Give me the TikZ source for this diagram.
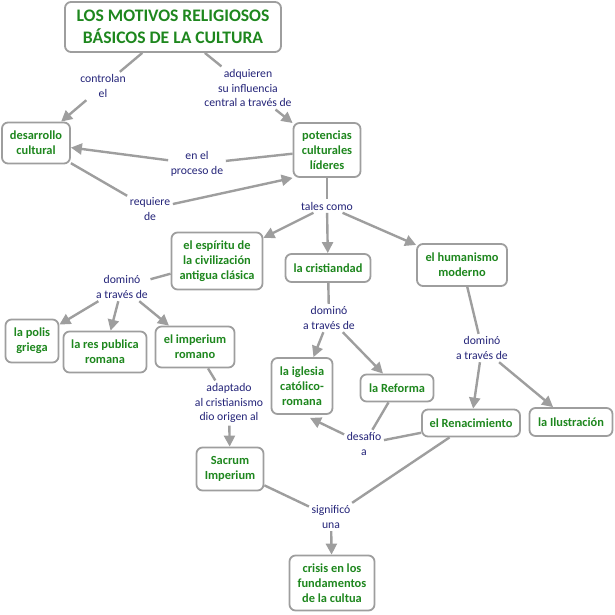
\documentclass[tikz,border=0pt]{standalone}
\usepackage{fontspec}
\setmainfont{Carlito}
\usetikzlibrary{arrows.meta}
\definecolor{cgreen}{RGB}{30,135,30}
\definecolor{lnavy}{RGB}{35,35,120}
\definecolor{cgray}{RGB}{158,158,158}
\begin{document}
\begin{tikzpicture}[x=1pt,y=-1pt,
 concept/.style={draw=cgray, line width=1.8pt, rounded corners=6pt, fill=white, text=cgreen,
   font=\bfseries\fontsize{12.4}{15}\selectfont, align=center, inner sep=1pt},
 link/.style={text=lnavy, font=\fontsize{11.7}{14.8}\selectfont, align=center, inner sep=2.5pt},
 conn/.style={draw=cgray, line width=2.4pt},
 arr/.style={conn, -{Triangle[length=11pt,width=11pt]}}]
\useasboundingbox (0,0) rectangle (615,615);

% concepts
\node[concept, minimum width=216, minimum height=50, font=\bfseries\fontsize{17.6}{21.5}\selectfont] (title) at (173,27) {LOS MOTIVOS RELIGIOSOS\\BÁSICOS DE LA CULTURA};
\node[concept, minimum width=68, minimum height=41] (desarrollo) at (36,143) {desarrollo\\cultural};
\node[concept, minimum width=67, minimum height=54] (potencias) at (327,150) {potencias\\culturales\\líderes};
\node[concept, minimum width=91, minimum height=57] (espiritu) at (217,261) {el espíritu de\\la civilización\\antigua clásica};
\node[concept, minimum width=85, minimum height=28] (cristiandad) at (328,268) {la cristiandad};
\node[concept, minimum width=90, minimum height=42] (humanismo) at (462,265) {el humanismo\\moderno};
\node[concept, minimum width=53, minimum height=43] (polis) at (32,341) {la polis\\griega};
\node[concept, minimum width=83, minimum height=41] (res) at (105,352) {la res publica\\romana};
\node[concept, minimum width=79, minimum height=41] (imperium) at (195,347) {el imperium\\romano};
\node[concept, minimum width=67, minimum height=43] (sacrum) at (230,469) {Sacrum\\Imperium};
\node[concept, minimum width=61, minimum height=56] (iglesia) at (302,386) {la iglesia\\católico-\\romana};
\node[concept, minimum width=73, minimum height=27] (reforma) at (397,388) {la Reforma};
\node[concept, minimum width=98, minimum height=27] (renac) at (471,423) {el Renacimiento};
\node[concept, minimum width=83, minimum height=28] (ilus) at (571,422) {la Ilustración};
\node[concept, minimum width=85, minimum height=55] (crisis) at (332,583) {crisis en los\\fundamentos\\de la cultua};

% linking phrases
\node[link] (controlan) at (103,86) {controlan\\el};
\node[link] (adquieren) at (248,88) {adquieren\\su influencia\\central a través de};
\node[link] (proceso) at (197,164) {en el\\proceso de};
\node[link] (requiere) at (150,209) {requiere\\de};
\node[link] (tales) at (327,206) {tales como};
\node[link] (domA) at (122,287) {dominó\\a través de};
\node[link] (adaptado) at (229,403) {adaptado\\al cristianismo\\dio origen al};
\node[link] (domB) at (329,318) {dominó\\a través de};
\node[link] (domC) at (482,348) {dominó\\a través de};
\node[link] (desafio) at (364,444) {desafío\\a};
\node[link] (signif) at (331,517) {significó\\una};

% connectors
\draw[conn] (title) -- (controlan);
\draw[arr] (controlan) -- (desarrollo);
\draw[conn] (title) -- (adquieren);
\draw[arr] (adquieren) -- (potencias);
\draw[conn] (potencias) -- (proceso);
\draw[arr] (proceso) -- (desarrollo);
\draw[conn] (desarrollo) -- (requiere);
\draw[arr] (requiere) -- (potencias.south west);
\draw[conn] (potencias) -- (tales);
\draw[arr] (tales) -- (espiritu);
\draw[arr] (tales) -- (cristiandad);
\draw[arr] (tales) -- (humanismo);
\draw[conn] (espiritu) -- (domA);
\draw[arr] (domA) -- (polis);
\draw[arr] (domA) -- (res);
\draw[arr] (domA) -- (imperium);
\draw[conn] (imperium) -- (adaptado);
\draw[arr] (adaptado) -- (sacrum);
\draw[conn] (cristiandad) -- (domB);
\draw[arr] (domB) -- (iglesia);
\draw[arr] (domB) -- (reforma);
\draw[conn] (humanismo) -- (domC);
\draw[arr] (domC) -- (renac);
\draw[arr] (domC) -- (ilus);
\draw[conn] (reforma) -- (desafio);
\draw[conn] (renac) -- (desafio);
\draw[arr] (desafio) -- ([xshift=8pt,yshift=-3pt]iglesia.south);
\draw[conn] (sacrum) -- (signif);
\draw[conn] (renac) -- (signif);
\draw[arr] (signif) -- (crisis);
\end{tikzpicture}
\end{document}
